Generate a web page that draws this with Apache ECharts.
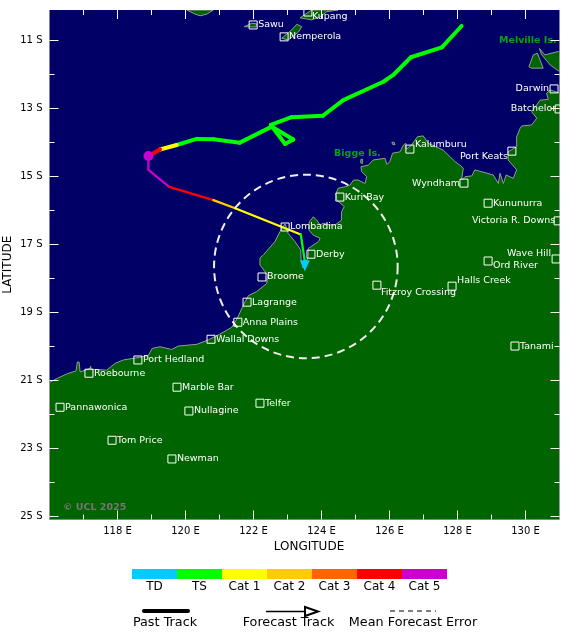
<!DOCTYPE html>
<html>
<head>
<meta charset="utf-8">
<style>html,body{margin:0;padding:0;background:#fff}#main{width:580px;height:639px}</style>
<script src="https://cdn.jsdelivr.net/npm/echarts@6/dist/echarts.min.js"></script>
</head>
<body>
<div id="main"></div>
<script>
// map window
const lonMin = 116, lonMax = 131, latMin = -25.09, latMax = -10.11;
const lonMajor = [118, 120, 122, 124, 126, 128, 130];
const lonMinor = [117, 119, 121, 123, 125, 127, 129];
const latMajor = [-25, -23, -21, -19, -17, -15, -13, -11];
const latMinor = [-24, -22, -20, -18, -16, -14, -12];

// coastlines as [lon, lat]
const mainland = [[116,-21.06],[116.23,-20.94],[116.51,-20.81],[116.78,-20.72],[116.82,-20.46],[116.87,-20.46],[116.90,-20.75],
  [117.19,-20.65],[117.21,-20.58],[117.22,-20.67],[117.68,-20.70],[117.93,-20.50],[118.17,-20.40],[118.66,-20.32],[118.91,-20.26],
  [119.02,-20.06],[119.25,-20.01],[119.59,-20.09],[119.79,-19.99],[120.33,-19.94],[120.67,-19.81],[121.01,-19.64],[121.36,-19.44],
  [121.52,-19.18],[121.70,-18.79],[121.85,-18.51],[122.09,-18.39],[122.39,-18.15],[122.42,-17.90],[122.19,-17.61],[122.19,-17.40],
  [122.29,-17.31],[122.63,-16.92],[122.83,-16.53],[122.93,-16.40],[123.02,-16.68],[123.22,-16.92],[123.39,-17.17],[123.40,-17.46],
  [123.46,-17.70],[123.61,-17.36],[123.61,-17.12],[123.91,-16.92],[123.96,-16.82],[123.76,-16.73],[123.63,-16.58],[123.64,-16.34],
  [123.76,-16.19],[123.86,-16.29],[123.96,-16.43],[124.05,-16.38],[124.25,-16.43],[124.40,-16.43],[124.59,-16.29],[124.59,-16.04],
  [124.67,-15.89],[124.45,-15.70],[124.43,-15.50],[124.49,-15.35],[124.69,-15.31],[124.84,-15.26],[124.94,-15.11],[125.08,-15.11],
  [125.28,-15.21],[125.33,-15.01],[125.18,-14.86],[125.16,-14.72],[125.38,-14.67],[125.52,-14.52],[125.87,-14.47],[125.92,-14.65],
  [126.01,-14.57],[126.09,-14.32],[126.31,-14.28],[126.41,-14.08],[126.48,-14.03],[126.49,-14.20],[126.65,-14.08],[126.82,-13.84],
  [126.99,-13.81],[127.14,-14.03],[127.58,-14.23],[127.93,-14.57],[128.07,-14.67],[128.17,-14.76],[128.12,-15.11],[128.22,-15.01],
  [128.42,-14.99],[128.51,-14.81],[129.05,-14.96],[129.20,-15.21],[129.25,-14.91],[129.35,-15.21],[129.43,-14.96],[129.64,-15.06],
  [129.74,-14.81],[129.49,-14.52],[129.49,-14.28],[129.74,-14.13],[129.74,-13.84],[129.84,-13.59],[129.89,-13.52],[130.18,-13.49],
  [130.33,-13.29],[130.18,-13.10],[130.43,-12.76],[130.67,-12.74],[130.62,-12.56],[130.72,-12.46],[131,-12.55],[131,-25.09],[116,-25.09]];
const melville = [[130.41,-11.24],[130.57,-11.43],[130.97,-11.33],[131,-11.33],[131,-11.92],[130.73,-11.73],[130.47,-11.42]];
const bathurst = [[130.10,-11.78],[130.23,-11.43],[130.35,-11.38],[130.52,-11.82],[130.18,-11.82]];
const sumba = [[120.04,-10.11],[120.28,-10.23],[120.43,-10.28],[120.63,-10.23],[120.82,-10.11]];
const sawu = [[121.73,-10.60],[121.95,-10.50],[122.10,-10.52],[122.07,-10.61]];
const roti = [[122.83,-10.94],[123.12,-10.70],[123.27,-10.53],[123.42,-10.60],[123.32,-10.76],[123.02,-10.99]];
const timor = [[123.37,-10.34],[123.71,-10.11],[124.49,-10.11],[124.15,-10.16],[123.96,-10.31],[123.71,-10.40]];
const islet1 = [[126.07,-14.00],[126.14,-14.00],[126.16,-14.07],[126.09,-14.06]];
const islet2 = [[125.16,-14.50],[125.21,-14.50],[125.20,-14.63],[125.15,-14.60]];
const landShapes = [mainland, melville, bathurst, sumba, sawu, roti, timor, islet1, islet2];

// towns
const townNames = ['Sawu','Nemperola','Kupang','Kalumburu','Wyndham','Port Keats','Darwin','Batchelor','Kununurra','Victoria R. Downs',
  'Wave Hill','Ord River','Halls Creek','Fitzroy Crossing','Tanami','Derby','Kuri Bay','Lombadina','Broome','Lagrange','Anna Plains',
  'Wallal Downs','Port Hedland','Roebourne','Marble Bar','Pannawonica','Nullagine','Telfer','Tom Price','Newman'];
const townLon = [121.99,122.90,123.60,126.60,128.19,129.60,130.84,130.99,128.90,130.96,130.90,128.90,127.84,125.63,129.69,123.69,124.54,
  122.93,122.25,121.81,121.54,120.75,118.60,117.16,119.75,116.31,120.10,122.19,117.84,119.60];
const townLat = [-10.55,-10.90,-10.17,-14.20,-15.20,-14.26,-12.43,-13.02,-15.79,-16.31,-17.43,-17.49,-18.23,-18.20,-19.99,-17.29,-15.61,
  -16.49,-17.96,-18.70,-19.29,-19.79,-20.40,-20.79,-21.20,-21.79,-21.90,-21.67,-22.76,-23.31];

// track of the cyclone, cat index per segment (0 TD ... 6 Cat 5)
const catNames = ['TD','TS','Cat 1','Cat 2','Cat 3','Cat 4','Cat 5'];
const catColors = ['#00CCFF','#00FF00','#FFFF00','#FFCC00','#FF6600','#FF0000','#CC00CC'];
const pastLon = [128.12,127.54,126.63,126.11,125.82,124.64,124.04,123.12,122.51,122.93,123.17,122.54,121.60,120.82,120.33,119.74,119.25,118.91];
const pastLat = [-10.58,-11.21,-11.50,-12.02,-12.22,-12.76,-13.22,-13.26,-13.49,-14.05,-13.92,-13.54,-14.01,-13.91,-13.90,-14.08,-14.21,-14.40];
const pastCat = [1,1,1,1,1,1,1,1,1,1,1,1,1,1,1,2,5];
const fcstLon = [118.91,118.91,119.52,120.82,121.46,123.39,123.51];
const fcstLat = [-14.40,-14.81,-15.31,-15.70,-15.94,-16.71,-17.51];
const fcstCat = [6,6,5,3,2,1];
const errorCircle = [123.54,-17.65,2.7];

const labelPlace = {
  Kupang: {position:'right', offset:[-1,4]},
  Kalumburu: {position:'right', offset:[0,-5]},
  Wyndham: {position:'left', offset:[1,0]},
  'Port Keats': {position:'left', offset:[1,5]},
  Darwin: {position:'left'},
  Batchelor: {position:'left', offset:[2,0]},
  'Victoria R. Downs': {position:'left', offset:[2,0]},
  'Wave Hill': {position:'left', offset:[0,-5]},
  'Ord River': {position:'right', offset:[0,5]},
  'Halls Creek': {position:'right', offset:[0,-6]},
  'Fitzroy Crossing': {position:'right', offset:[-1,7]}
};

const font = 'DejaVu Sans';

function segments(lon, lat, cat, width) {
  return cat.map((c, i) => ({
    type: 'line', silent: true, z: 6, showSymbol: false, animation: false,
    data: [[lon[i], lat[i]], [lon[i + 1], lat[i + 1]]],
    lineStyle: {color: catColors[c], width, cap: 'round'}
  }));
}

const tickStyle = {color: '#fff', width: 1};
function makeAxis(kind, pos, grid, ticks, len, labels) {
  const isX = kind === 'x';
  return {
    type: 'value', gridIndex: grid, position: pos, z: 20,
    min: isX ? lonMin : latMin, max: isX ? lonMax : latMax,
    splitLine: {show: false}, axisLine: {show: false},
    axisTick: {show: true, inside: true, length: len, customValues: ticks, lineStyle: tickStyle},
    axisLabel: labels ? {
      show: true, customValues: labels, margin: 7, color: '#000', fontFamily: font, fontSize: 10,
      formatter: v => Math.abs(v) + (isX ? ' E' : ' S')
    } : {show: false}
  };
}

const xAxes = [makeAxis('x','bottom',0,lonMajor,9,lonMajor), makeAxis('x','top',0,lonMajor,9),
  makeAxis('x','bottom',1,lonMinor,5), makeAxis('x','top',1,lonMinor,5)];
const yAxes = [makeAxis('y','left',0,latMajor,9,latMajor), makeAxis('y','right',0,latMajor,9),
  makeAxis('y','left',1,latMinor,5), makeAxis('y','right',1,latMinor,5)];
Object.assign(xAxes[0], {name: 'LONGITUDE', nameLocation: 'middle', nameGap: 21, nameMoveOverlap: false,
  nameTextStyle: {color: '#000', fontFamily: font, fontSize: 12, padding: [0, 0, 0, 9]}});
Object.assign(yAxes[0], {name: 'LATITUDE', nameLocation: 'middle', nameGap: 36, nameRotate: 90, nameMoveOverlap: false,
  nameTextStyle: {color: '#000', fontFamily: font, fontSize: 12}});

const legendGraphics = [];
catNames.forEach((name, i) => {
  legendGraphics.push({type: 'rect', shape: {x: 132 + i * 45, y: 569, width: 45, height: 10}, style: {fill: catColors[i]}});
  legendGraphics.push({type: 'text', x: 154.5 + i * 45, y: 587, style: {text: name, fill: '#000', font: '12px ' + font, textAlign: 'center', textVerticalAlign: 'middle'}});
});
[['Past Track', 165], ['Forecast Track', 288.5], ['Mean Forecast Error', 413]].forEach(([t, x]) => {
  legendGraphics.push({type: 'text', x, y: 623, style: {text: t, fill: '#000', font: '12.8px ' + font, textAlign: 'center', textVerticalAlign: 'middle'}});
});
legendGraphics.push(
  {type: 'line', shape: {x1: 144, y1: 611, x2: 188, y2: 611}, style: {stroke: '#000', lineWidth: 4, lineCap: 'round'}},
  {type: 'line', shape: {x1: 266, y1: 611.5, x2: 305, y2: 611.5}, style: {stroke: '#000', lineWidth: 1.5}},
  {type: 'polygon', shape: {points: [[305, 607], [318, 611.5], [305, 616]]}, style: {fill: 'none', stroke: '#000', lineWidth: 2}},
  {type: 'line', shape: {x1: 390, y1: 611, x2: 436, y2: 611}, style: {stroke: '#000', lineWidth: 1, lineDash: [5, 4]}},
  {type: 'text', x: 63, y: 508, z: 30, style: {text: '© UCL 2025', fill: '#777', font: 'bold 9.5px ' + font, textVerticalAlign: 'middle'}}
);

const option = {
  backgroundColor: '#fff',
  animation: false,
  grid: [
    {left: 49.5, top: 10, width: 510, height: 509.5, show: true, backgroundColor: '#000066', borderWidth: 0, outerBoundsMode: 'none'},
    {left: 49.5, top: 10, width: 510, height: 509.5, outerBoundsMode: 'none'}
  ],
  xAxis: xAxes,
  yAxis: yAxes,
  graphic: legendGraphics,
  series: [
    {
      type: 'custom', silent: true, z: 2, clip: true,
      coordinateSystem: 'cartesian2d',
      data: landShapes.map((s, i) => [i]),
      renderItem: (params, api) => ({
        type: 'polygon',
        shape: {points: landShapes[api.value(0)].map(p => api.coord(p))},
        style: {fill: '#006400', stroke: '#999', lineWidth: 1}
      })
    },
    ...segments(pastLon, pastLat, pastCat, 4),
    ...segments(fcstLon, fcstLat, fcstCat, 2.3),
    {
      type: 'custom', silent: true, z: 7,
      coordinateSystem: 'cartesian2d',
      data: [errorCircle],
      renderItem: (params, api) => {
        const c = api.coord([api.value(0), api.value(1)]);
        return {
          type: 'circle',
          shape: {cx: c[0], cy: c[1], r: api.size([api.value(2), 0])[0]},
          style: {fill: 'none', stroke: '#eee', lineWidth: 2, lineDash: [8, 5]}
        };
      }
    },
    {
      type: 'scatter', silent: true, z: 8, symbol: 'circle', symbolSize: 10,
      data: [[pastLon[pastLon.length - 1], pastLat[pastLat.length - 1]]],
      itemStyle: {color: catColors[6], opacity: 1}
    },
    {
      type: 'scatter', silent: true, z: 8, symbol: 'triangle', symbolRotate: 180, symbolSize: [10, 11],
      data: [[fcstLon[fcstLon.length - 1], fcstLat[fcstLat.length - 1] - 0.12]],
      itemStyle: {color: catColors[0], opacity: 1}
    },
    {
      type: 'scatter', silent: true, z: 9, symbol: 'rect', symbolSize: 8,
      itemStyle: {color: 'rgba(0,0,0,0)', borderColor: '#fff', borderWidth: 1, opacity: 1},
      label: {show: true, position: 'right', distance: 0.5, color: '#fff', fontFamily: font, fontSize: 9.5, formatter: p => p.name},
      data: townNames.map((name, i) => ({
        name, value: [townLon[i], townLat[i]],
        label: labelPlace[name] || {}
      }))
    },
    {
      type: 'scatter', silent: true, z: 9, symbolSize: 0,
      label: {show: true, position: 'right', distance: 0, color: '#00CC00', fontFamily: font, fontSize: 9.5, fontWeight: 'bold', formatter: p => p.name},
      data: [{name: 'Melville Is.', value: [129.22, -11]}, {name: 'Bigge Is.', value: [124.37, -14.32]}]
    }
  ]
};

const chart = echarts.init(document.getElementById('main'), null, {renderer: 'canvas'});
chart.setOption(option);
</script>
</body>
</html>
